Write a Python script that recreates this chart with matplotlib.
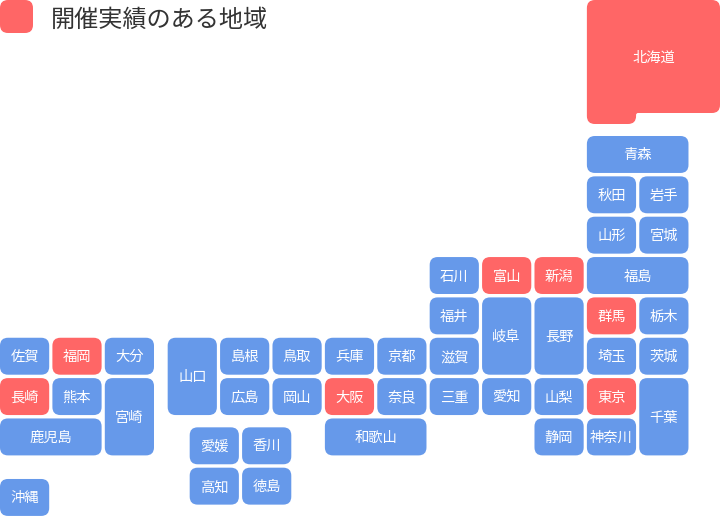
import matplotlib
matplotlib.use('Agg')
import matplotlib.pyplot as plt
from matplotlib.patches import FancyBboxPatch, PathPatch
from matplotlib.path import Path

plt.rcParams['font.family'] = ['Noto Sans CJK JP', 'DejaVu Sans']

# tile map: grid column, grid row, columns spanned, rows spanned
names = ['青森', '秋田', '岩手', '山形', '宮城', '石川', '富山', '新潟', '福島',
         '福井', '岐阜', '長野', '群馬', '栃木', '佐賀', '福岡', '大分', '山口',
         '島根', '鳥取', '兵庫', '京都', '滋賀', '埼玉', '茨城', '長崎', '熊本',
         '宮崎', '広島', '岡山', '大阪', '奈良', '三重', '愛知', '山梨', '東京',
         '千葉', '鹿児島', '和歌山', '静岡', '神奈川', '愛媛', '香川', '高知',
         '徳島', '沖縄']
cols = [11.2, 11.2, 12.2, 11.2, 12.2, 8.2, 9.2, 10.2, 11.2,
        8.2, 9.2, 10.2, 11.2, 12.2, 0, 1, 2, 3.2,
        4.2, 5.2, 6.2, 7.2, 8.2, 11.2, 12.2, 0, 1,
        2, 4.2, 5.2, 6.2, 7.2, 8.2, 9.2, 10.2, 11.2,
        12.2, 0, 6.2, 10.2, 11.2, 3.62, 4.62, 3.62,
        4.62, 0]
rows = [0, 1, 1, 2, 2, 3, 3, 3, 3,
        4, 4, 4, 4, 4, 5, 5, 5, 5,
        5, 5, 5, 5, 5, 5, 5, 6, 6,
        6, 6, 6, 6, 6, 6, 6, 6, 6,
        6, 7, 7, 7, 7, 7.22, 7.22, 8.22,
        8.22, 8.5]
col_span = [2, 1, 1, 1, 1, 1, 1, 1, 2,
            1, 1, 1, 1, 1, 1, 1, 1, 1,
            1, 1, 1, 1, 1, 1, 1, 1, 1,
            1, 1, 1, 1, 1, 1, 1, 1, 1,
            1, 2, 2, 1, 1, 1, 1, 1,
            1, 1]
row_span = [1, 1, 1, 1, 1, 1, 1, 1, 1,
            1, 2, 2, 1, 1, 1, 1, 1, 2,
            1, 1, 1, 1, 1, 1, 1, 1, 1,
            2, 1, 1, 1, 1, 1, 1, 1, 1,
            2, 1, 1, 1, 1, 1, 1, 1,
            1, 1]
held = ['富山', '新潟', '群馬', '福岡', '長崎', '大阪', '東京', '北海道']
title = '開催実績のある地域'

RED = '#ff6666'
BLUE = '#6699ea'
PITCH_X = 52.4
PITCH_Y = 40.35
GAP_X = 3.2
GAP_Y = 3.4
TOP = 136.0
R = 8
LABEL_SIZE = 10.3


def rounded_outline(pts, radii):
    # closed polygon, each corner with its own radius
    verts, codes = [], []
    n = len(pts)
    for i in range(n):
        px, py = pts[i - 1]
        cx, cy = pts[i]
        nx, ny = pts[(i + 1) % n]
        r = radii[i]
        d1 = max(abs(cx - px), abs(cy - py))
        d2 = max(abs(nx - cx), abs(ny - cy))
        a = (cx + (px - cx) * r / d1, cy + (py - cy) * r / d1)
        b = (cx + (nx - cx) * r / d2, cy + (ny - cy) * r / d2)
        verts.append(a)
        codes.append(Path.MOVETO if i == 0 else Path.LINETO)
        verts += [(cx, cy), b]
        codes += [Path.CURVE3, Path.CURVE3]
    verts.append(verts[0])
    codes.append(Path.CLOSEPOLY)
    return Path(verts, codes)


def tile(ax, x, y, w, h, color):
    ax.add_patch(FancyBboxPatch((x + R, y + R), w - 2 * R, h - 2 * R,
                                boxstyle='round,pad=%d,rounding_size=%d' % (R, R),
                                fc=color, ec='none'))


fig = plt.figure(figsize=(7.2, 5.16), dpi=100)
ax = fig.add_axes([0, 0, 1, 1])
ax.set_xlim(0, 720)
ax.set_ylim(516, 0)
ax.axis('off')

for name, c, r, cs, rs in zip(names, cols, rows, col_span, row_span):
    x = c * PITCH_X
    y = TOP + r * PITCH_Y
    w = cs * PITCH_X - GAP_X
    h = rs * PITCH_Y - GAP_Y
    tile(ax, x, y, w, h, RED if name in held else BLUE)
    ax.text(x + w / 2, y + h / 2 + 1, name, color='white', fontsize=LABEL_SIZE,
            ha='center', va='center')

# hokkaido is the one tile that is not a rectangle
left = 11.2 * PITCH_X
right = 720
tab = left + PITCH_X - GAP_X
hokkaido = [(left, 0), (right, 0), (right, 113), (tab, 113), (tab, 124), (left, 124)]
ax.add_patch(PathPatch(rounded_outline(hokkaido, [8, 8, 8, 2, 8, 8]), fc=RED, ec='none'))
ax.text((left + right) / 2, 58, '北海道', color='white', fontsize=LABEL_SIZE,
        ha='center', va='center')

# legend
tile(ax, 0, 0, 33, 33, RED)
ax.text(50.5, 19.5, title, color='#333333', fontsize=17.4, ha='left', va='center')

fig.savefig('out.png', dpi=100)
